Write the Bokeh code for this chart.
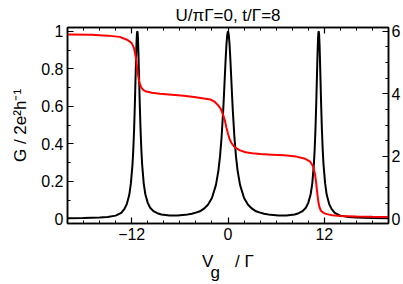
from bokeh.plotting import figure
from bokeh.models import LinearAxis, Range1d, FixedTicker
from bokeh.embed import file_html
from bokeh.resources import INLINE

# ---- data ----
vg_G = [-20, -18, -16, -15, -14, -13.3, -12.9, -12.6, -12.3, -12.1, -11.9, -11.8, -11.7, -11.6,
        -11.5, -11.45, -11.4, -11.35, -11.3, -11.25, -11.2, -11.15, -11.1, -11.0, -10.9, -10.8,
        -10.7, -10.5, -10.3, -10.0, -9.7, -9.3, -8.8, -8.3, -7.3, -6.3, -5.3, -4.5, -4.0, -3.5,
        -3.0, -2.5, -2.0, -1.5, -1.2, -1.0, -0.8, -0.6, -0.5, -0.4, -0.3, -0.2, -0.1, 0.0,
        0.1, 0.2, 0.3, 0.4, 0.5, 0.6, 0.8, 1.0, 1.2, 1.5, 2.0, 2.5, 3.0, 3.5, 4.0, 4.5, 5.3,
        6.3, 7.3, 8.3, 8.8, 9.3, 9.7, 10.0, 10.3, 10.5, 10.7, 10.8, 10.9, 11.0, 11.1, 11.15,
        11.2, 11.25, 11.3, 11.35, 11.4, 11.45, 11.5, 11.6, 11.7, 11.8, 11.9, 12.1, 12.3, 12.6,
        12.9, 13.3, 14, 15, 16, 18, 20]
G = [0.003, 0.004, 0.007, 0.010, 0.017, 0.032, 0.053, 0.080, 0.128, 0.19, 0.29, 0.37, 0.477, 0.619,
     0.786, 0.868, 0.938, 0.986, 1.0, 0.986, 0.938, 0.868, 0.786, 0.62, 0.478, 0.37,
     0.29, 0.188, 0.131, 0.085, 0.059, 0.041, 0.030, 0.023, 0.018, 0.018, 0.021, 0.027, 0.033, 0.040,
     0.054, 0.075, 0.111, 0.181, 0.256, 0.33, 0.435, 0.577, 0.663, 0.755, 0.845, 0.925, 0.98, 1.0,
     0.98, 0.925, 0.845, 0.755, 0.663, 0.577, 0.435, 0.33, 0.256, 0.181, 0.111, 0.075, 0.054, 0.040,
     0.033, 0.027, 0.021, 0.018, 0.018, 0.023, 0.030, 0.041, 0.059, 0.085, 0.131, 0.188, 0.29, 0.37,
     0.478, 0.62, 0.786, 0.868, 0.938, 0.986, 1.0, 0.986, 0.938, 0.868, 0.786, 0.619, 0.477, 0.37,
     0.29, 0.19, 0.128, 0.080, 0.053, 0.032, 0.017, 0.010, 0.007, 0.004, 0.003]

vg_n = [-20, -17, -15, -13.5, -12.5, -12.0, -11.7, -11.5, -11.4, -11.3, -11.2, -11.1, -11.0, -10.85,
        -10.6, -10.3, -9.5, -8.5, -7, -5.5, -4, -3, -2.2, -1.6, -1.2, -0.9, -0.6, -0.4, -0.2, 0,
        0.2, 0.4, 0.7, 1.0, 1.5, 2.2, 3, 4, 5.5, 7, 8.5, 9.5, 10.2, 10.6, 10.85, 11.0, 11.1, 11.2,
        11.3, 11.4, 11.6, 11.9, 12.3, 13, 14, 16, 18, 20]
n = [5.90, 5.89, 5.86, 5.82, 5.72, 5.62, 5.45, 5.18, 5.0, 4.78, 4.58, 4.43, 4.33, 4.22,
     4.13, 4.08, 4.03, 4.0, 3.97, 3.94, 3.89, 3.85, 3.82, 3.73, 3.62, 3.52, 3.32, 3.15, 2.92, 2.72,
     2.55, 2.44, 2.33, 2.26, 2.19, 2.13, 2.10, 2.07, 2.05, 2.03, 1.99, 1.93, 1.84, 1.68, 1.42, 1.12,
     0.88, 0.66, 0.48, 0.37, 0.25, 0.19, 0.15, 0.115, 0.09, 0.075, 0.065, 0.06]

x_ticks = [-12, 0, 12]
x_minor = [-20, -18, -16, -14, -12, -10, -8, -6, -4, -2, 0, 2, 4, 6, 8, 10, 12, 14, 16, 18, 20]
g_ticks = [0, 0.2, 0.4, 0.6, 0.8, 1]
g_minor = [0, 0.1, 0.2, 0.3, 0.4, 0.5, 0.6, 0.7, 0.8, 0.9, 1.0]
n_ticks = [0, 2, 4, 6]
n_minor = [0, 0.5, 1, 1.5, 2, 2.5, 3, 3.5, 4, 4.5, 5, 5.5, 6]

title_text = "U/πΓ=0, t/Γ=8"
ylabel_text = "G / 2e²h⁻¹"
# second line carries the subscript "g", padded so it sits just right of "V"
xlabel_text = "V\u2002\u2002 / Γ\ng\u2002\u2002\u2002"

FONT = "Liberation Sans"

p = figure(width=403, height=284, x_range=Range1d(-20, 20), y_range=Range1d(-0.025, 1.02),
           output_backend="svg", toolbar_location=None,
           min_border_left=67, min_border_right=14, min_border_top=25, min_border_bottom=60)
p.extra_y_ranges = {"n": Range1d(-0.15, 6.12)}
p.xgrid.visible = False
p.ygrid.visible = False
p.outline_line_color = "black"
p.outline_line_width = 1.5
p.background_fill_color = "white"
p.border_fill_color = "white"

bottom = p.below[0]
left = p.left[0]
right = LinearAxis(y_range_name="n")
p.add_layout(right, "right")
top = LinearAxis()
p.add_layout(top, "above")

bottom.ticker = FixedTicker(ticks=x_ticks, minor_ticks=x_minor)
top.ticker = FixedTicker(ticks=x_ticks, minor_ticks=x_minor)
left.ticker = FixedTicker(ticks=g_ticks, minor_ticks=g_minor)
left.major_label_overrides = {0: "0", 1: "1"}
right.ticker = FixedTicker(ticks=n_ticks, minor_ticks=n_minor)

for ax in [bottom, top, left, right]:
    ax.axis_line_color = "black"
    ax.axis_line_width = 1.5
    ax.major_tick_line_color = "black"
    ax.minor_tick_line_color = "black"
    ax.major_tick_line_width = 1.2
    ax.minor_tick_line_width = 1
    ax.major_tick_in = 6
    ax.major_tick_out = 0
    ax.minor_tick_in = 3
    ax.minor_tick_out = 0
    ax.major_label_text_font = FONT
    ax.major_label_text_font_size = "16px"
    ax.major_label_text_color = "black"
    ax.major_label_standoff = 4
    ax.axis_label_text_font = FONT
    ax.axis_label_text_font_style = "normal"
    ax.axis_label_text_color = "black"

top.major_label_overrides = {-12: "", 0: "", 12: ""}
top.major_label_standoff = 0
right.major_label_standoff = 3

left.axis_label = ylabel_text
left.axis_label_text_font_size = "17px"
left.axis_label_standoff = 8

bottom.axis_label = xlabel_text
bottom.axis_label_text_font_size = "17px"
bottom.axis_label_text_line_height = 0.6
bottom.axis_label_standoff = 9

p.title.text = title_text
p.title.align = "center"
p.title.text_font = FONT
p.title.text_font_size = "17px"
p.title.text_font_style = "normal"
p.title.text_color = "black"
p.title.standoff = 6

p.line(vg_G, G, line_color="black", line_width=2)
p.line(vg_n, n, line_color="red", line_width=2, y_range_name="n")

open("out.html", "w").write(file_html(p, INLINE))
